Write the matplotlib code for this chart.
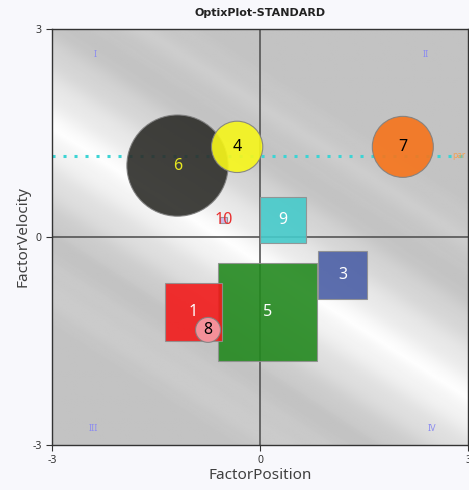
import numpy as np
import matplotlib
matplotlib.use("Agg")
import matplotlib.pyplot as plt
from matplotlib.patches import Circle, Rectangle

plt.rcParams['font.family'] = ['Noto Sans', 'DejaVu Sans']

# bubbles: id, shape, x, y, size (diameter / side), fill, label colour
ids = ["1", "3", "4", "5", "6", "7", "8", "9", "10"]
shapes = ["square", "square", "circle", "square", "circle", "circle", "circle", "square", "square"]
xs = [-0.96, 1.19, -0.33, 0.11, -1.19, 2.06, -0.75, 0.33, -0.52]
ys = [-1.08, -0.55, 1.30, -1.08, 1.03, 1.30, -1.34, 0.24, 0.245]
sizes = [0.83, 0.70, 0.74, 1.42, 1.46, 0.88, 0.36, 0.66, 0.10]
fills = ["#f21b1b", "#4b5fa6", "#f7f71a", "#23891f", "#2d2d29", "#f7741a", "#f59ca6", "#45caca", "#c8b4e6"]
text_colors = ["white", "white", "black", "white", "#e8e820", "black", "black", "white", "#e83030"]

par_y = 1.17
quadrants = ["I", "II", "III", "IV"]
quad_x = [-2.38, 2.39, -2.41, 2.48]
quad_y = [2.63, 2.63, -2.76, -2.76]

fig = plt.figure(figsize=(4.69, 4.90), dpi=100)
fig.patch.set_facecolor("#f8f8fc")
ax = fig.add_axes([52 / 469, 45 / 490, 416 / 469, 416 / 490])
ax.set_xlim(-3, 3)
ax.set_ylim(-3, 3)

# diagonal gradient background
gx, gy = np.meshgrid(np.linspace(-3, 3, 400), np.linspace(-3, 3, 400))
u = 0.55 * gx + 0.85 * gy + 0.33
light = np.clip(1 - np.abs(u) / 1.35, 0, 1) ** 1.1
light = light + 0.15 * np.clip(1 - np.abs(np.abs(u) - 1.95) / 0.5, 0, 1)
light = light + 0.025 * np.sin(u * 14) * (light > 0.05)
val = 0.765 + (0.995 - 0.765) * np.clip(light, 0, 1)
ax.imshow(val, extent=(-3, 3, -3, 3), origin="lower", cmap="gray", vmin=0, vmax=1,
          interpolation="bilinear", zorder=0, aspect="auto")

ax.axhline(0, color="#555555", lw=1.2, zorder=1)
ax.axvline(0, color="#555555", lw=1.2, zorder=1)

ax.axhline(par_y, color="#3cd4d4", lw=2.2, ls=(0, (1, 2.6)), zorder=1)
ax.text(2.78, par_y, "par", color="#f4a050", fontsize=6, va="center", ha="left", zorder=5)

for q, qx, qy in zip(quadrants, quad_x, quad_y):
    ax.text(qx, qy, q, color="#8c8cf0", fontsize=6.5, ha="center", va="center", zorder=2)

order = sorted(range(len(ids)), key=lambda i: -sizes[i])
for k, i in enumerate(order):
    s = sizes[i]
    if shapes[i] == "circle":
        p = Circle((xs[i], ys[i]), s / 2, facecolor=fills[i], edgecolor="#808080",
                   lw=0.8, alpha=0.9, zorder=3 + k * 0.01)
    else:
        p = Rectangle((xs[i] - s / 2, ys[i] - s / 2), s, s, facecolor=fills[i],
                      edgecolor="#909090", lw=0.8, alpha=0.9, zorder=3 + k * 0.01)
    ax.add_patch(p)
    ax.text(xs[i], ys[i], ids[i], color=text_colors[i], fontsize=11.5, ha="center",
            va="center", zorder=4 + k * 0.01)

ax.set_xticks([-3, 0, 3])
ax.set_yticks([-3, 0, 3])
ax.set_xticklabels(["-3", "0", "3"])
ax.set_yticklabels(["-3", "0", "3"])
ax.tick_params(labelsize=7.5, colors="#333333", length=4, width=0.8)
for side in ["top", "left", "bottom", "right"]:
    ax.spines[side].set_color("#333333")
    ax.spines[side].set_linewidth(1.0)

ax.set_xlabel("FactorPosition", fontsize=11, color="#404040", labelpad=1)
ax.set_ylabel("FactorVelocity", fontsize=11, color="#404040", labelpad=1)
ax.set_title("OptixPlot-STANDARD", fontsize=8, fontweight="bold", color="#222222",
             pad=9, family=["DejaVu Sans"])

fig.savefig("out.png", dpi=100, facecolor=fig.get_facecolor())
